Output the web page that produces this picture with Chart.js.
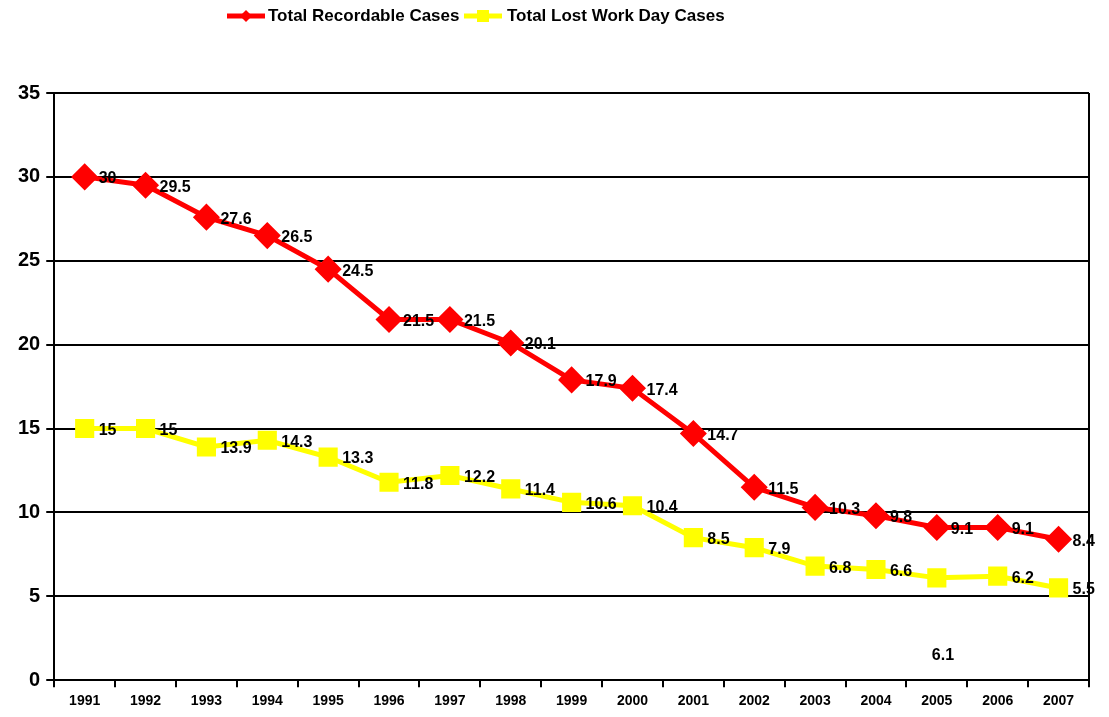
<!DOCTYPE html>
<html>
<head>
<meta charset="utf-8">
<script src="https://cdn.jsdelivr.net/npm/chart.js@4/dist/chart.umd.min.js"></script>
<style>
  html, body { margin: 0; padding: 0; background: #fff; }
  #wrap { width: 1109px; height: 717px; }
</style>
</head>
<body>
<div id="wrap"><canvas id="grafico"></canvas></div>
<script>
const anos = ['1991','1992','1993','1994','1995','1996','1997','1998','1999','2000','2001','2002','2003','2004','2005','2006','2007'];
const recordable = [30, 29.5, 27.6, 26.5, 24.5, 21.5, 21.5, 20.1, 17.9, 17.4, 14.7, 11.5, 10.3, 9.8, 9.1, 9.1, 8.4];
const lostWorkDay = [15, 15, 13.9, 14.3, 13.3, 11.8, 12.2, 11.4, 10.6, 10.4, 8.5, 7.9, 6.8, 6.6, 6.1, 6.2, 5.5];
const yTicks = [0, 5, 10, 15, 20, 25, 30, 35];

const fonte = '"Liberation Sans", Arial, sans-serif';

function marcador(ctx, x, y, forma, r) {
  ctx.beginPath();
  if (forma === 'rectRot') {
    ctx.moveTo(x, y - r); ctx.lineTo(x + r, y); ctx.lineTo(x, y + r); ctx.lineTo(x - r, y);
  } else {
    ctx.rect(x - r, y - r, 2 * r, 2 * r);
  }
  ctx.closePath();
  ctx.fill();
}

// legenda desenhada a mao (linha + marcador + texto)
const legenda = {
  id: 'legenda',
  afterDraw(chart) {
    const ctx = chart.ctx;
    const itens = [[227, 268], [464, 507]];
    ctx.save();
    ctx.font = 'bold 17px ' + fonte;
    ctx.textBaseline = 'middle';
    chart.data.datasets.forEach((ds, i) => {
      const [x0, xt] = itens[i];
      const y = 16;
      ctx.strokeStyle = ds.borderColor;
      ctx.fillStyle = ds.borderColor;
      ctx.lineWidth = 5;
      ctx.beginPath(); ctx.moveTo(x0, y); ctx.lineTo(x0 + 38, y); ctx.stroke();
      marcador(ctx, x0 + 19, y, ds.pointStyle, 6);
      ctx.fillStyle = '#000';
      ctx.fillText(ds.label, xt, y);
    });
    ctx.restore();
  }
};

// rotulos de dados + borda direita
const rotulos = {
  id: 'rotulos',
  afterDatasetsDraw(chart) {
    const ctx = chart.ctx;
    ctx.save();
    ctx.font = 'bold 16px ' + fonte;
    ctx.fillStyle = '#000';
    ctx.textBaseline = 'middle';
    chart.data.datasets.forEach((ds, i) => {
      chart.getDatasetMeta(i).data.forEach((pt, j) => {
        let dx = 14, dy = 2;
        if (i === 1 && j === 14) { dx = -5; dy = 78; }
        ctx.fillText(String(ds.data[j]), pt.x + dx, pt.y + dy);
      });
    });
    const a = chart.chartArea;
    ctx.strokeStyle = '#000';
    ctx.lineWidth = 2;
    ctx.beginPath(); ctx.moveTo(a.right, a.top); ctx.lineTo(a.right, a.bottom); ctx.stroke();
    ctx.restore();
  }
};

new Chart(document.getElementById('grafico').getContext('2d'), {
  type: 'line',
  data: {
    labels: anos,
    datasets: [{
      label: 'Total Recordable Cases',
      data: recordable,
      borderColor: '#ff0000',
      backgroundColor: '#ff0000',
      borderWidth: 5,
      pointStyle: 'rectRot',
      pointRadius: 10,
      pointHoverRadius: 10,
      tension: 0
    }, {
      label: 'Total Lost Work Day Cases',
      data: lostWorkDay,
      borderColor: '#ffff00',
      backgroundColor: '#ffff00',
      borderWidth: 5,
      pointStyle: 'rect',
      pointRadius: 10,
      pointHoverRadius: 10,
      tension: 0
    }]
  },
  options: {
    responsive: true,
    maintainAspectRatio: false,
    animation: false,
    layout: { padding: { top: 93, right: 20, left: 12, bottom: 1 } },
    scales: {
      x: {
        offset: true,
        grid: { offset: true, drawOnChartArea: false, color: '#000', lineWidth: 2, tickLength: 7 },
        border: { color: '#000', width: 2 },
        ticks: { color: '#000', font: { family: fonte, size: 14, weight: 'bold' }, maxRotation: 0, padding: 6 }
      },
      y: {
        min: 0,
        max: 35,
        afterBuildTicks(axis) { axis.ticks = yTicks.map(v => ({ value: v })); },
        grid: { color: '#000', lineWidth: 2, tickLength: 8 },
        border: { color: '#000', width: 2 },
        ticks: { color: '#000', font: { family: fonte, size: 20, weight: 'bold' }, padding: 6 }
      }
    },
    plugins: {
      legend: { display: false },
      title: { display: false },
      tooltip: { enabled: false }
    }
  },
  plugins: [rotulos, legenda]
});
</script>
</body>
</html>
